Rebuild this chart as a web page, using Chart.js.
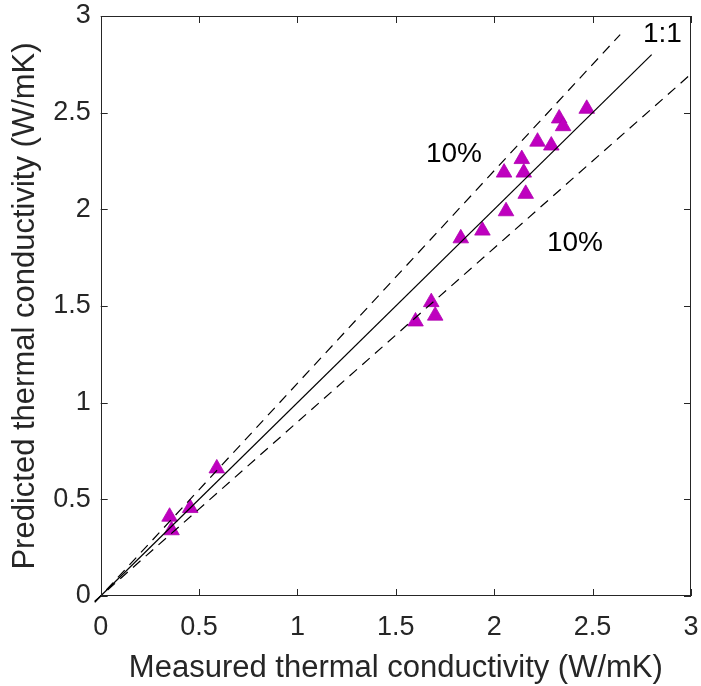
<!DOCTYPE html>
<html>
<head>
<meta charset="utf-8">
<script src="https://cdn.jsdelivr.net/npm/chart.js@4.4.1/dist/chart.umd.min.js"></script>
<style>
  html, body { margin: 0; padding: 0; background: #fff; }
  #wrap { width: 701px; height: 686px; }
</style>
</head>
<body>
<div id="wrap"><canvas id="kChart" width="701" height="686"></canvas></div>
<script>
let measured = [0.35, 0.36, 0.455, 0.59, 1.60, 1.68, 1.70, 1.83, 1.94, 2.06, 2.16, 2.05, 2.14, 2.15, 2.22, 2.29, 2.33, 2.35, 2.47];
let predicted = [0.41, 0.34, 0.455, 0.66, 1.42, 1.52, 1.45, 1.85, 1.89, 1.99, 2.08, 2.19, 2.26, 2.19, 2.35, 2.33, 2.47, 2.43, 2.52];
let tickValues = [0, 0.5, 1, 1.5, 2, 2.5, 3];
// reference lines: [x start, x end, slope]
let oneToOne = [-0.03, 2.8, 1.0];
let upper10 = [-0.03, 2.64, 1.1];
let lower10 = [-0.03, 3.0, 0.9];
let labelTexts = ["1:1", "10%", "10%"];
let labelX = [2.756, 1.653, 2.268];
let labelY = [2.866, 2.245, 1.785];

const axisColor = "#262626";
const fontFamily = "'Liberation Sans', Arial, sans-serif";

function lineData(def) {
  return [
    { x: def[0], y: def[0] * def[2] },
    { x: def[1], y: def[1] * def[2] },
  ];
}

function noEdgePadding(scale) {
  scale.paddingTop = 0;
  scale.paddingBottom = 0;
  scale.paddingLeft = 0;
  scale.paddingRight = 0;
}

// box around the axes and inward tick marks on all four sides, plus text labels
const boxPlugin = {
  id: "boxPlugin",
  afterDraw(chart) {
    const ctx = chart.ctx;
    const a = chart.chartArea;
    const xs = chart.scales.x;
    const ys = chart.scales.y;
    const tl = 7;
    ctx.save();
    ctx.strokeStyle = axisColor;
    ctx.lineWidth = 1;
    ctx.strokeRect(Math.round(a.left) + 0.5, Math.round(a.top) + 0.5, Math.round(a.right - a.left) - 1, Math.round(a.bottom - a.top) - 1);
    ctx.beginPath();
    tickValues.forEach((v) => {
      let px = Math.round(xs.getPixelForValue(v)) + 0.5;
      ctx.moveTo(px, a.bottom);
      ctx.lineTo(px, a.bottom - tl);
      ctx.moveTo(px, a.top);
      ctx.lineTo(px, a.top + tl);
      let py = Math.round(ys.getPixelForValue(v)) + 0.5;
      ctx.moveTo(a.left, py);
      ctx.lineTo(a.left + tl, py);
      ctx.moveTo(a.right, py);
      ctx.lineTo(a.right - tl, py);
    });
    ctx.stroke();

    ctx.fillStyle = "#000";
    ctx.font = "28px " + fontFamily;
    ctx.textAlign = "left";
    ctx.textBaseline = "alphabetic";
    labelTexts.forEach((t, i) => {
      ctx.fillText(t, xs.getPixelForValue(labelX[i]), ys.getPixelForValue(labelY[i]));
    });
    ctx.restore();
  },
};

new Chart(document.querySelector("#kChart"), {
  type: "scatter",
  data: {
    datasets: [
      {
        data: lineData(oneToOne),
        showLine: true,
        borderColor: "#000",
        borderWidth: 1.2,
        pointRadius: 0,
        clip: { left: 10, bottom: 10, right: 0, top: 0 },
      },
      {
        data: lineData(upper10),
        showLine: true,
        borderColor: "#000",
        borderWidth: 1.2,
        borderDash: [10, 7],
        pointRadius: 0,
        clip: { left: 10, bottom: 10, right: 0, top: 0 },
      },
      {
        data: lineData(lower10),
        showLine: true,
        borderColor: "#000",
        borderWidth: 1.2,
        borderDash: [10, 7],
        pointRadius: 0,
        clip: { left: 10, bottom: 10, right: 0, top: 0 },
      },
      {
        data: measured.map((m, i) => ({ x: m, y: predicted[i] })),
        pointStyle: "triangle",
        pointRadius: 9,
        backgroundColor: "#bf00bf",
        borderColor: "#b000b0",
        borderWidth: 0.8,
      },
    ],
  },
  options: {
    responsive: false,
    animation: false,
    layout: {
      padding: { top: 16, right: 10, left: 0, bottom: 0 },
    },
    scales: {
      x: {
        type: "linear",
        min: 0,
        max: 3,
        afterFit: (scale) => {
          scale.height = 90;
          noEdgePadding(scale);
        },
        afterBuildTicks: (scale) => {
          scale.ticks = tickValues.map((v) => ({ value: v }));
        },
        grid: { display: false, drawTicks: false },
        border: { display: false },
        ticks: {
          color: axisColor,
          padding: 15,
          maxRotation: 0,
          font: { size: 27, family: fontFamily },
          callback: (value) => String(value),
        },
        title: {
          display: true,
          text: "Measured thermal conductivity (W/mK)",
          color: axisColor,
          padding: { top: 0, bottom: 2 },
          font: { size: 31, family: fontFamily, lineHeight: 1 },
        },
      },
      y: {
        type: "linear",
        min: 0,
        max: 3,
        afterFit: (scale) => {
          scale.width = 100.7;
          noEdgePadding(scale);
        },
        afterBuildTicks: (scale) => {
          scale.ticks = tickValues.map((v) => ({ value: v }));
        },
        grid: { display: false, drawTicks: false },
        border: { display: false },
        ticks: {
          color: axisColor,
          padding: 10,
          font: { size: 27, family: fontFamily },
          callback: (value) => String(value),
        },
        title: {
          display: true,
          text: "Predicted thermal conductivity (W/mK)",
          color: axisColor,
          padding: { top: 10, bottom: 0 },
          font: { size: 31, family: fontFamily, lineHeight: 1 },
        },
      },
    },
    plugins: {
      legend: { display: false },
      tooltip: { enabled: false },
    },
  },
  plugins: [boxPlugin],
});
</script>
</body>
</html>
